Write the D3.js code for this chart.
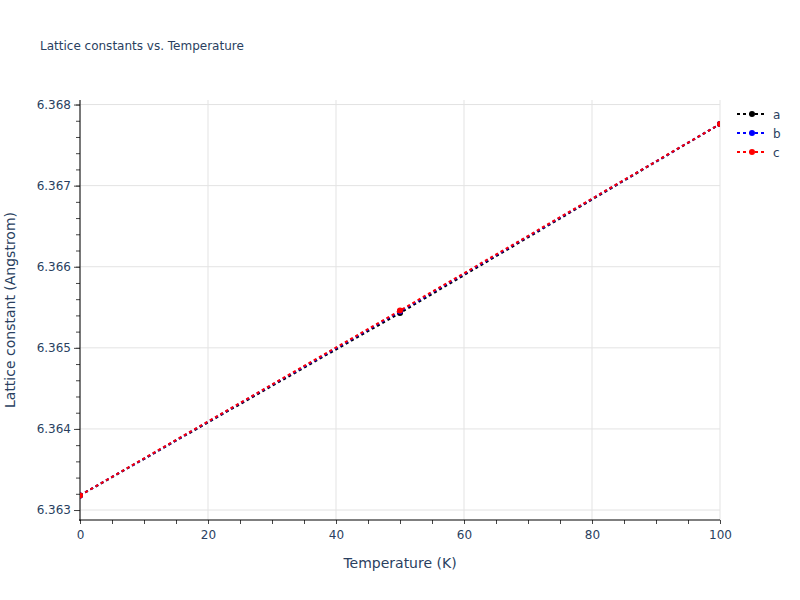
<!DOCTYPE html>
<html>
<head>
<meta charset="utf-8">
<script src="https://cdn.jsdelivr.net/npm/d3@7"></script>
<style>
  body { margin: 0; background: #fff; }
  text { font-family: "DejaVu Sans", verdana, arial, sans-serif; }
</style>
</head>
<body>
<div id="chart"></div>
<script>
// data
const temperatures = [0, 50, 100];
const seriesNames = ["a", "b", "c"];
const seriesColors = ["#000000", "#0000ff", "#ff0000"];
const valuesA = [6.36318, 6.36543, 6.36776];
const valuesB = [6.36318, 6.36545, 6.36776];
const valuesC = [6.36318, 6.36546, 6.36776];
const xTicks = [0, 20, 40, 60, 80, 100];
const yTicks = [6.363, 6.364, 6.365, 6.366, 6.367, 6.368];

function drawChart() {
    const width = 800, height = 600;
    const margin = { left: 80, right: 80, top: 100, bottom: 80 };
    const fontColor = "#2a3f5f";

    const svg = d3.select("#chart").append("svg").attr("width", width).attr("height", height);

    const x = d3.scaleLinear().domain([0, 100]).range([margin.left, width - margin.right]);
    const y = d3.scaleLinear().domain([6.362877, 6.368056]).range([height - margin.bottom, margin.top]);

    svg.append("defs").append("clipPath").attr("id", "plotclip")
        .append("rect").attr("x", margin.left).attr("y", margin.top)
        .attr("width", width - margin.left - margin.right).attr("height", height - margin.top - margin.bottom);

    // grid
    svg.append("g").selectAll("line").data(xTicks).join("line")
        .attr("x1", d => x(d)).attr("x2", d => x(d))
        .attr("y1", margin.top).attr("y2", height - margin.bottom)
        .attr("stroke", "#e3e3e3").attr("stroke-width", 1);
    svg.append("g").selectAll("line").data(yTicks).join("line")
        .attr("x1", margin.left).attr("x2", width - margin.right)
        .attr("y1", d => y(d)).attr("y2", d => y(d))
        .attr("stroke", "#e3e3e3").attr("stroke-width", 1);

    // axes
    const xMinor = d3.range(0, 101, 5);
    const yMinor = d3.range(0, 26).map(i => 6.363 + i * 0.0002).filter(v => v <= 6.368056);

    const xAxisG = svg.append("g").attr("transform", `translate(0,${height - margin.bottom})`);
    xAxisG.call(d3.axisBottom(x).tickValues(xMinor).tickSize(4).tickFormat(""))
        .call(g => g.select(".domain").remove())
        .call(g => g.selectAll(".tick line").attr("stroke", "#444"));
    xAxisG.append("g").call(d3.axisBottom(x).tickValues(xTicks).tickSize(4).tickPadding(6).tickFormat(d3.format("d")))
        .call(g => g.select(".domain").remove())
        .call(g => g.selectAll(".tick line").attr("stroke", "#444"))
        .call(g => g.selectAll("text").attr("fill", fontColor).attr("font-size", 12).attr("font-family", null));
    xAxisG.append("line").attr("x1", margin.left - 1).attr("x2", width - margin.right)
        .attr("stroke", "#000").attr("stroke-width", 1);

    const yAxisG = svg.append("g").attr("transform", `translate(${margin.left},0)`);
    yAxisG.call(d3.axisLeft(y).tickValues(yMinor).tickSize(4).tickFormat(""))
        .call(g => g.select(".domain").remove())
        .call(g => g.selectAll(".tick line").attr("stroke", "#444"));
    yAxisG.append("g").call(d3.axisLeft(y).tickValues(yTicks).tickSize(6).tickPadding(3).tickFormat(d3.format(".3f")))
        .call(g => g.select(".domain").remove())
        .call(g => g.selectAll(".tick line").attr("stroke", "#444"))
        .call(g => g.selectAll("text").attr("fill", fontColor).attr("font-size", 12).attr("font-family", null));
    yAxisG.append("line").attr("y1", margin.top).attr("y2", height - margin.bottom + 1)
        .attr("stroke", "#000").attr("stroke-width", 1);

    // series
    const series = [valuesA, valuesB, valuesC].map((vals, i) => ({
        name: seriesNames[i], color: seriesColors[i],
        points: temperatures.map((t, j) => ({ t, v: vals[j] }))
    }));
    const line = d3.line().x(d => x(d.t)).y(d => y(d.v));
    const plot = svg.append("g").attr("clip-path", "url(#plotclip)");
    series.forEach(s => {
        const g = plot.append("g");
        g.append("path").datum(s.points).attr("d", line)
            .attr("fill", "none").attr("stroke", s.color).attr("stroke-width", 2)
            .attr("stroke-dasharray", "3,3");
        g.selectAll("circle").data(s.points).join("circle")
            .attr("cx", d => x(d.t)).attr("cy", d => y(d.v)).attr("r", 3)
            .attr("fill", s.color);
    });

    // legend
    const legend = svg.append("g").attr("transform", "translate(737,114)");
    series.forEach((s, i) => {
        const g = legend.append("g").attr("transform", `translate(0,${i * 19})`);
        g.append("line").attr("x1", 0).attr("x2", 30)
            .attr("stroke", s.color).attr("stroke-width", 2).attr("stroke-dasharray", "3,3");
        g.append("circle").attr("cx", 15).attr("cy", 0).attr("r", 3).attr("fill", s.color);
        g.append("text").attr("x", 36).attr("y", 4.5).attr("font-size", 12)
            .attr("fill", fontColor).text(s.name);
    });

    // titles
    svg.append("text").attr("x", 40).attr("y", 50).attr("font-size", 12)
        .attr("fill", fontColor).text("Lattice constants vs. Temperature");
    svg.append("text").attr("x", x(50)).attr("y", 568).attr("text-anchor", "middle")
        .attr("font-size", 14).attr("fill", fontColor).text("Temperature (K)");
    svg.append("text").attr("transform", `translate(15,${(margin.top + height - margin.bottom) / 2}) rotate(-90)`)
        .attr("text-anchor", "middle").attr("font-size", 14).attr("fill", fontColor)
        .text("Lattice constant (Angstrom)");
}

document.addEventListener("DOMContentLoaded", () => {
    drawChart();
});
</script>
</body>
</html>
